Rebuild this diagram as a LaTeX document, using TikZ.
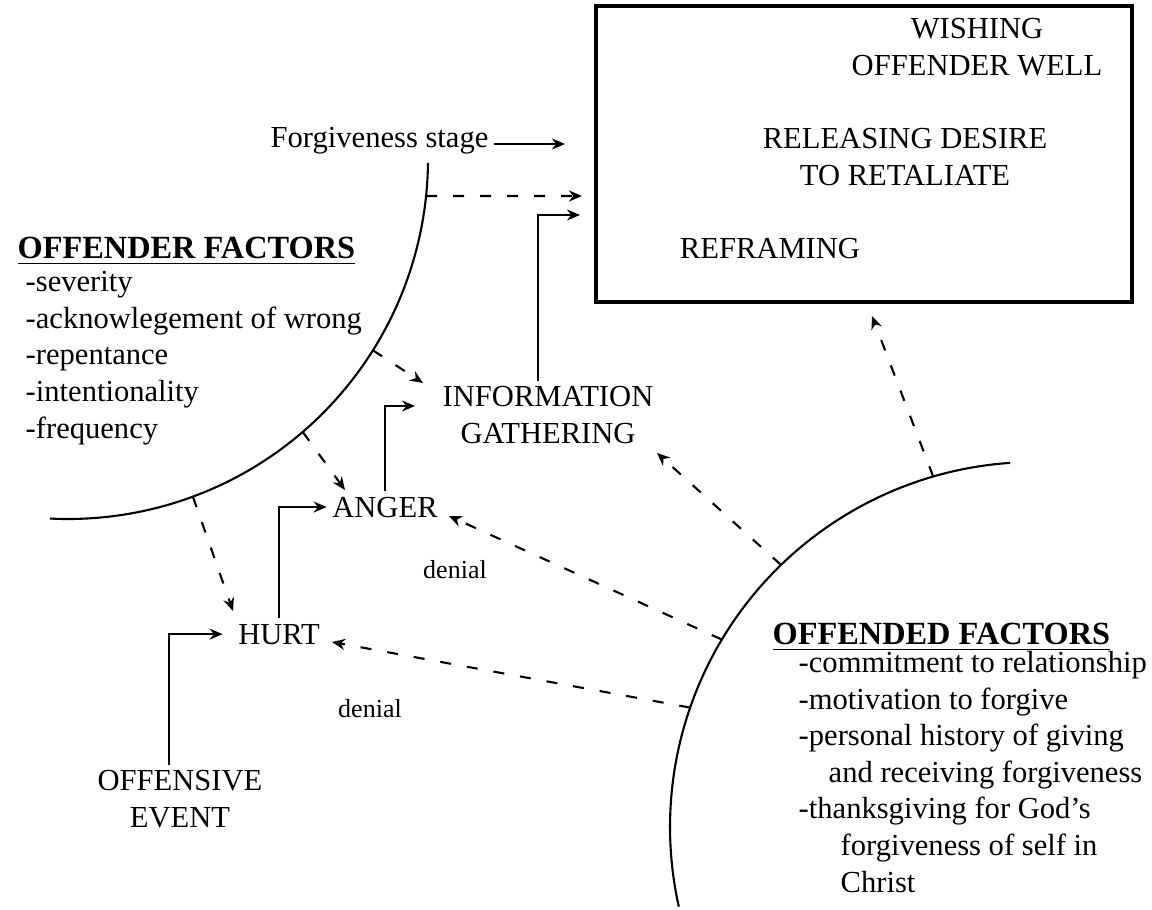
\documentclass[tikz,border=0pt]{standalone}
\usepackage{fontspec}
\setmainfont{Liberation Serif}
\usetikzlibrary{arrows.meta,calc}
\newcommand{\txtsz}{\fontsize{8.7}{10.4}\selectfont}
\newcommand{\headsz}{\fontsize{9.2}{10.4}\selectfont}
\newcommand{\smsz}{\fontsize{7.4}{9}\selectfont}

\begin{document}
\begin{tikzpicture}[
		lbl/.style={font=\txtsz, inner sep=0.5mm},
		arr/.style={-{Stealth[length=1.3mm,width=1.1mm]}, line width=0.6pt},
		darr/.style={arr, dash pattern=on 1.1mm off 1.6mm}]
		\useasboundingbox (0,0) rectangle (11.52,-9.09);

		% stages box
		\node[draw, line width=0.9pt, minimum width=5.36cm, minimum height=2.96cm, inner sep=0] (box) at (8.64,-1.54) {};
		\node[lbl, align=center, anchor=base] (wish) at (9.77,-0.75) {WISHING\\OFFENDER WELL};
		\node[lbl, align=center, anchor=base] (release) at (9.05,-1.85) {RELEASING DESIRE\\TO RETALIATE};
		\node[lbl, anchor=base] (reframe) at (7.70,-2.58) {REFRAMING};
		\node[lbl, anchor=base west] (stage) at (2.65,-1.47) {Forgiveness stage};

		% the two arcs
		\coordinate (offender) at (0.68,-1.59);
		\coordinate (offended) at (10.35,-8.27);
		\draw[line width=0.6pt] ($(offender)+(-0.6:3.6)$) arc[start angle=-0.6, end angle=-92.9, radius=3.6];
		\draw[line width=0.6pt] ($(offended)+(93.9:3.65)$) arc[start angle=93.9, end angle=192.6, radius=3.65];

		\node[lbl, anchor=base west, font=\headsz\bfseries] (offhead) at (0.12,-2.58) {\underline{OFFENDER FACTORS}};
		\node[lbl, anchor=base west, align=left] (offlist) at (0.20,-4.38) {-severity\\-acknowlegement of wrong\\-repentance\\-intentionality\\-frequency};
		\node[lbl, anchor=base west, font=\headsz\bfseries] (odhead) at (7.67,-6.44) {\underline{OFFENDED FACTORS}};
		\node[lbl, anchor=base west, align=left] (odlist) at (7.93,-8.92) {-commitment to relationship\\-motivation to forgive\\-personal history of giving\\\hspace*{0.30cm}and receiving forgiveness\\-thanksgiving for God’s\\\hspace*{0.42cm}forgiveness of self in\\\hspace*{0.42cm}Christ};

		% process
		\node[lbl, align=center, anchor=base] (info) at (5.48,-4.43) {INFORMATION\\GATHERING};
		\node[lbl, anchor=base] (anger) at (3.85,-5.17) {ANGER};
		\node[lbl, anchor=base] (hurt) at (2.79,-6.44) {HURT};
		\node[lbl, align=center, anchor=base] (event) at (1.80,-8.27) {OFFENSIVE\\EVENT};
		\node[font=\smsz, anchor=base] (denial1) at (4.55,-5.78) {denial};
		\node[font=\smsz, anchor=base] (denial2) at (3.70,-7.17) {denial};

		\coordinate (s1) at (5.65,-1.44);
		\coordinate (b1) at (5.80,-2.15);
		\coordinate (i1) at (4.15,-4.06);
		\draw[arr] ([yshift=0.03cm]stage.base east) -- (s1);
		\draw[arr, shorten >=0.1cm] ([xshift=-0.11cm]event.north) |- (hurt.west);
		\draw[arr] (hurt.north) |- (anger.west);
		\draw[arr] (anger.north) |- (i1);
		\draw[arr] ([xshift=-0.10cm]info.north) |- (b1);

		% dashed influences
		\coordinate (o1) at ($(offender)+(-5.9:3.6)$);
		\coordinate (o2) at ($(offender)+(-32.1:3.6)$);
		\coordinate (o3) at ($(offender)+(-49.3:3.6)$);
		\coordinate (o4) at ($(offender)+(-69.7:3.6)$);
		\coordinate (d1) at ($(offended)+(106.2:3.65)$);
		\coordinate (d2) at ($(offended)+(134.1:3.65)$);
		\coordinate (d3) at ($(offended)+(149.1:3.65)$);
		\coordinate (d4) at ($(offended)+(160.9:3.65)$);
		\draw[darr] (o1) -- (5.82,-1.96);
		\draw[darr] (o2) -- (4.23,-3.83);
		\draw[darr] (o3) -- (3.45,-4.90);
		\draw[darr] (o4) -- (2.33,-6.11);
		\draw[darr] (d1) -- (8.72,-3.16);
		\draw[darr] (d2) -- (6.57,-4.53);
		\draw[darr] (d3) -- (4.49,-5.16);
		\draw[darr] (d4) -- (3.32,-6.42);
	\end{tikzpicture}
\end{document}
